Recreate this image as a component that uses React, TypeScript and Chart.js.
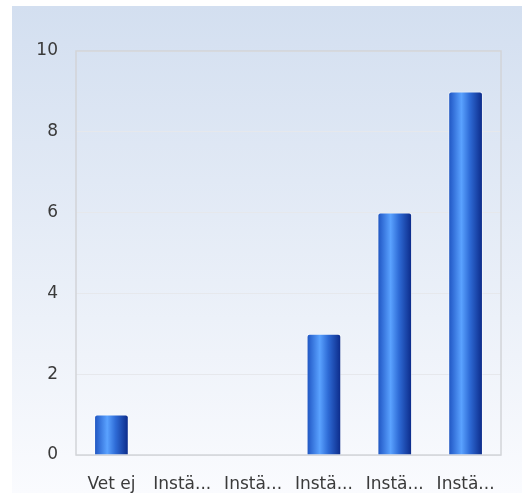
import React, { useEffect, useRef } from "react";
import { Chart, registerables } from "chart.js";

Chart.register(...registerables);

const categories = ["Vet ej", "Instä...", "Instä...", "Instä...", "Instä...", "Instä..."];
const values = [1, 0, 0, 3, 6, 9];
const yTicks = [0, 2, 4, 6, 8, 10];

const bgPlugin = {
  id: "bgPanel",
  beforeDraw(chart: any) {
    const { ctx, width, height } = chart;
    ctx.save();
    ctx.fillStyle = "#ffffff";
    ctx.fillRect(0, 0, width, height);
    const g = ctx.createLinearGradient(0, 6, 0, height);
    g.addColorStop(0, "#d3dff0");
    g.addColorStop(1, "#fafbfe");
    ctx.fillStyle = g;
    ctx.fillRect(12, 6, width - 12, height - 6);
    ctx.restore();
  },
  beforeDatasetsDraw(chart: any) {
    const { ctx, chartArea } = chart;
    ctx.save();
    ctx.strokeStyle = "#d2d4d8";
    ctx.lineWidth = 1.5;
    ctx.strokeRect(chartArea.left, chartArea.top, chartArea.right - chartArea.left, chartArea.bottom - chartArea.top);
    ctx.restore();
  },
};

export default function App() {
  const ref = useRef<HTMLCanvasElement>(null);
  useEffect(() => {
    if (!ref.current) return;
    const barPct = 0.49;
    const chart = new Chart(ref.current, {
      type: "bar",
      data: {
        labels: categories,
        datasets: [
          {
            data: values,
            backgroundColor: (c: any) => {
              const chart = c.chart;
              const xs = chart.scales?.x;
              const area = chart.chartArea;
              if (!xs || !area) return "#2f6fd8";
              const cx = xs.getPixelForValue(c.dataIndex);
              const w = ((area.right - area.left) / categories.length) * barPct;
              const g = chart.ctx.createLinearGradient(cx - w / 2, 0, cx + w / 2, 0);
              g.addColorStop(0, "#1d52bd");
              g.addColorStop(0.12, "#2f6ad4");
              g.addColorStop(0.38, "#5aa2ff");
              g.addColorStop(0.62, "#2e6bd6");
              g.addColorStop(1, "#0a2785");
              return g;
            },
            borderColor: "rgba(255,255,255,0.45)",
            borderWidth: 1,
            borderSkipped: "start",
            borderRadius: { topLeft: 3, topRight: 3, bottomLeft: 0, bottomRight: 0 },
            categoryPercentage: 1,
            barPercentage: barPct,
          },
        ],
      },
      options: {
        animation: false,
        responsive: false,
        layout: { padding: { left: 12, top: 51, right: 21, bottom: 0 } },
        plugins: { legend: { display: false }, tooltip: { enabled: false } },
        scales: {
          x: {
            grid: { display: false },
            border: { display: false },
            ticks: {
              padding: 11,
              color: "#3a3a3a",
              font: { family: "DejaVu Sans", size: 17 },
              maxRotation: 0,
              autoSkip: false,
            },
            afterFit: (s: any) => {
              s.height = 38;
            },
          },
          y: {
            min: 0,
            max: 10,
            afterBuildTicks: (s: any) => {
              s.ticks = yTicks.map((v) => ({ value: v }));
            },
            grid: { color: "#e6e8ec", drawTicks: false, lineWidth: 1 },
            border: { display: false },
            ticks: {
              padding: 18,
              color: "#3a3a3a",
              font: { family: "DejaVu Sans", size: 17 },
            },
            afterFit: (s: any) => {
              s.width = 64;
            },
          },
        },
      },
      plugins: [bgPlugin],
    });
    return () => chart.destroy();
  }, []);
  return (
    <div style={{ position: "fixed", left: 0, top: 0, width: 522, height: 493 }}>
      <canvas ref={ref} width={522} height={493} style={{ width: 522, height: 493, display: "block" }} />
    </div>
  );
}
